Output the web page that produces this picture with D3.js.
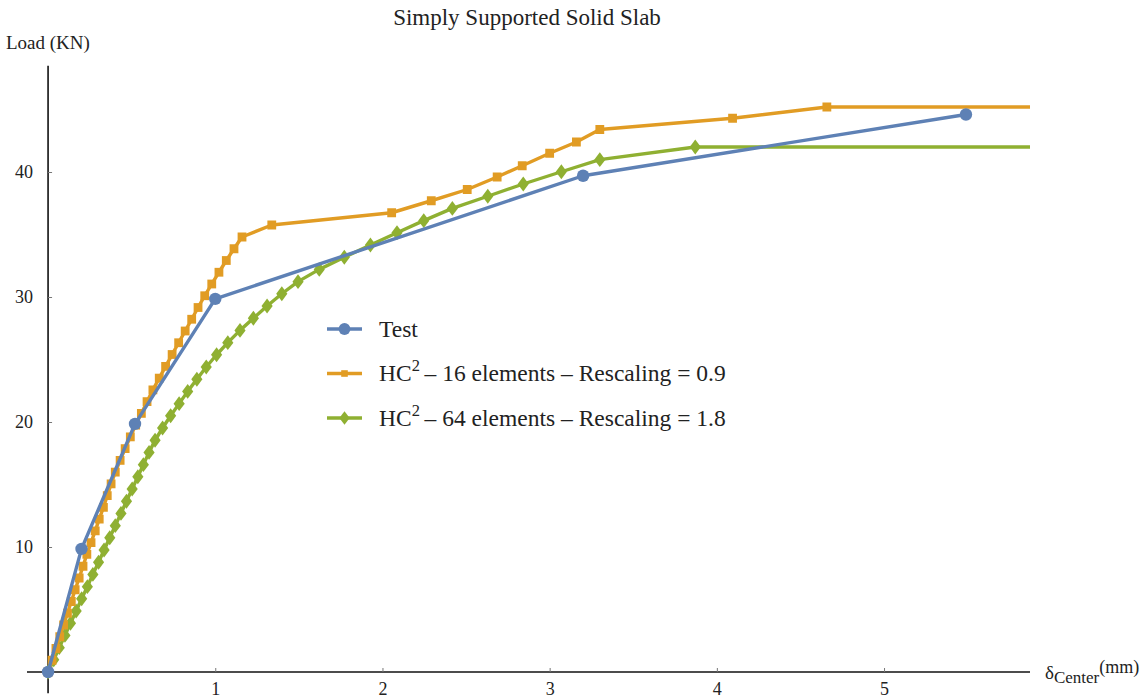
<!DOCTYPE html>
<html>
<head>
<meta charset="utf-8">
<script src="https://cdn.jsdelivr.net/npm/d3@7"></script>
<style>
  html, body { margin: 0; padding: 0; background: #fff; }
  svg text { font-family: "Liberation Serif", "Times New Roman", serif; }
</style>
</head>
<body>
<svg id="chart" width="1143" height="698"></svg>
<script>
// Load–deflection data, simply supported solid slab
const testX = [0, 0.20, 0.52, 1.00, 3.20, 5.49];
const testY = [0, 9.85, 19.85, 29.85, 39.7, 44.6];

const hc16X = [0, 0.024, 0.047, 0.070, 0.093, 0.116, 0.139, 0.162, 0.186, 0.209,
  0.232, 0.257, 0.282, 0.306, 0.331, 0.354, 0.377, 0.402, 0.431, 0.461,
  0.492, 0.524, 0.558, 0.592, 0.627, 0.665, 0.703, 0.742, 0.781, 0.820,
  0.859, 0.897, 0.937, 0.979, 1.022, 1.066, 1.112, 1.160, 1.338, 2.055,
  2.292, 2.507, 2.686, 2.836, 3.000, 3.160, 3.300, 4.094, 4.658, 7.0];
const hc16Y = [0, 0.94, 1.88, 2.82, 3.76, 4.70, 5.64, 6.58, 7.52, 8.46,
  9.41, 10.35, 11.29, 12.23, 13.17, 14.11, 15.05, 15.99, 16.93, 17.87,
  18.81, 19.75, 20.69, 21.63, 22.57, 23.51, 24.45, 25.40, 26.34, 27.28,
  28.22, 29.16, 30.10, 31.04, 31.98, 32.92, 33.86, 34.80, 35.76, 36.74,
  37.70, 38.60, 39.60, 40.50, 41.50, 42.40, 43.40, 44.30, 45.20, 45.20];

const hc64X = [0, 0.034, 0.067, 0.101, 0.134, 0.168, 0.201, 0.235, 0.268, 0.302,
  0.335, 0.369, 0.402, 0.436, 0.469, 0.503, 0.537, 0.570, 0.604, 0.640,
  0.685, 0.733, 0.784, 0.835, 0.890, 0.946, 1.008, 1.075, 1.148, 1.228,
  1.310, 1.398, 1.495, 1.622, 1.772, 1.928, 2.087, 2.247, 2.418, 2.630,
  2.842, 3.070, 3.300, 3.871, 7.0];
const hc64Y = [0, 0.98, 1.95, 2.93, 3.90, 4.88, 5.86, 6.83, 7.81, 8.78,
  9.76, 10.74, 11.71, 12.69, 13.66, 14.64, 15.62, 16.59, 17.57, 18.54,
  19.52, 20.50, 21.47, 22.45, 23.42, 24.40, 25.38, 26.35, 27.33, 28.30,
  29.28, 30.26, 31.23, 32.21, 33.18, 34.16, 35.14, 36.11, 37.09, 38.06,
  39.04, 40.02, 40.99, 42.00, 42.00];

const xTicks = [1, 2, 3, 4, 5];
const yTicks = [10, 20, 30, 40];

const seriesNames = ["Test", "16 elements \u2013 Rescaling = 0.9", "64 elements \u2013 Rescaling = 1.8"];
const colors = ["#5E81B5", "#E19C24", "#8FB032"];
const shapes = ["circle", "square", "diamond"];

const series = [
  { name: seriesNames[0], xs: testX, ys: testY },
  { name: seriesNames[1], xs: hc16X, ys: hc16Y },
  { name: seriesNames[2], xs: hc64X, ys: hc64Y }
];

const SERIF = '"Liberation Serif", "Times New Roman", serif';
const svg = d3.select("#chart");

const x = d3.scaleLinear().domain([-0.126, 5.873]).range([27, 1030]);
const y = d3.scaleLinear().domain([-1.7, 48.5]).range([693.25, 65.75]);

// Plot region clip
svg.append("defs").append("clipPath").attr("id", "plotClip")
  .append("rect")
  .attr("x", x.range()[0]).attr("y", y.range()[1])
  .attr("width", x.range()[1] - x.range()[0])
  .attr("height", y.range()[0] - y.range()[1]);

// Title
svg.append("text")
  .attr("x", 527).attr("y", 25)
  .attr("text-anchor", "middle")
  .style("font-family", SERIF)
  .attr("font-size", 23)
  .attr("fill", "#222")
  .text("Simply Supported Solid Slab");

// Axes crossing at origin
const xAxis = d3.axisBottom(x).tickValues(xTicks).tickSize(-4).tickPadding(0)
  .tickFormat(d3.format("d"));
const yAxis = d3.axisLeft(y).tickValues(yTicks).tickSize(-4).tickPadding(15)
  .tickFormat(d3.format("d"));

const gx = svg.append("g").attr("transform", `translate(0,${y(0)})`).call(xAxis);
const gy = svg.append("g").attr("transform", `translate(${x(0)},0)`).call(yAxis);

[gx, gy].forEach(g => {
  g.attr("font-family", null);
  g.select(".domain").attr("stroke", "#111").attr("stroke-width", 1.6);
  g.selectAll(".tick line").attr("stroke", "#777").attr("stroke-width", 1);
  g.selectAll(".tick text").style("font-family", SERIF)
    .attr("font-size", 18).attr("fill", "#222");
});
gx.select(".domain").attr("d", `M${x.range()[0]},0H${x.range()[1]}`);
gy.select(".domain").attr("d", `M0,${y.range()[0]}V${y.range()[1]}`);
gx.selectAll(".tick text").attr("y", 23).attr("dy", null);

// Axis labels
svg.append("text")
  .attr("x", 6).attr("y", 49)
  .style("font-family", SERIF)
  .attr("font-size", 19).attr("fill", "#222")
  .text("Load (KN)");

const xl = svg.append("text").attr("x", 1045).attr("y", 679).attr("fill", "#222")
  .style("font-family", SERIF);
xl.append("tspan").attr("font-size", 19).text("\u03B4");
xl.append("tspan").attr("font-size", 17).attr("dy", 4).text("Center");
xl.append("tspan").attr("font-size", 18).attr("dy", -10).text("(mm)");

// Marker symbols
function markerPath(shape) {
  if (shape === "circle") return d3.symbol().type(d3.symbolCircle).size(Math.PI * 6.2 * 6.2)();
  if (shape === "square") return d3.symbol().type(d3.symbolSquare).size(8.8 * 8.8)();
  return d3.symbol().type(d3.symbolDiamond).size(64)();
}

const line = d3.line().x(d => x(d[0])).y(d => y(d[1]));
const plot = svg.append("g").attr("clip-path", "url(#plotClip)");

// Draw series from last to first so the test curve sits on top
series.map((s, i) => ({ s, i })).reverse().forEach(({ s, i }) => {
  const pts = s.xs.map((v, k) => [v, s.ys[k]]);
  const g = plot.append("g");
  g.append("path")
    .attr("d", line(pts))
    .attr("fill", "none")
    .attr("stroke", colors[i])
    .attr("stroke-width", 3.4)
    .attr("stroke-linejoin", "round");
  const mk = markerPath(shapes[i]);
  g.selectAll("path.mk")
    .data(pts.filter(p => p[0] <= x.domain()[1]))
    .join("path")
    .attr("class", "mk")
    .attr("d", mk)
    .attr("transform", d => shapes[i] === "diamond"
      ? `translate(${x(d[0])},${y(d[1])}) scale(1.3,1.0)`
      : `translate(${x(d[0])},${y(d[1])})`)
    .attr("fill", colors[i]);
});

// Legend
const legend = svg.append("g").attr("transform", "translate(327,329)");
const rowGap = 44.5;
seriesNames.forEach((name, i) => {
  const row = legend.append("g").attr("transform", `translate(0,${i * rowGap})`);
  row.append("line").attr("x1", 0).attr("x2", 35).attr("y1", 0).attr("y2", 0)
    .attr("stroke", colors[i]).attr("stroke-width", 3.4);
  row.append("path").attr("d", markerPath(shapes[i]))
    .attr("transform", shapes[i] === "diamond"
      ? "translate(17.5,0) scale(1.2,0.9)"
      : (shapes[i] === "circle" ? "translate(17.5,0) scale(0.95)" : "translate(17.5,0) scale(0.75)"))
    .attr("fill", colors[i]);
  const t = row.append("text").attr("x", 52).attr("y", 7.5)
    .style("font-family", SERIF)
    .attr("font-size", 23.5).attr("fill", "#222");
  if (i === 0) {
    t.text(name);
  } else {
    t.append("tspan").text("HC");
    t.append("tspan").attr("font-size", 16.5).attr("dy", -10).text("2");
    t.append("tspan").attr("dy", 10).text("\u2009\u2013 " + name);
  }
});
</script>
</body>
</html>
